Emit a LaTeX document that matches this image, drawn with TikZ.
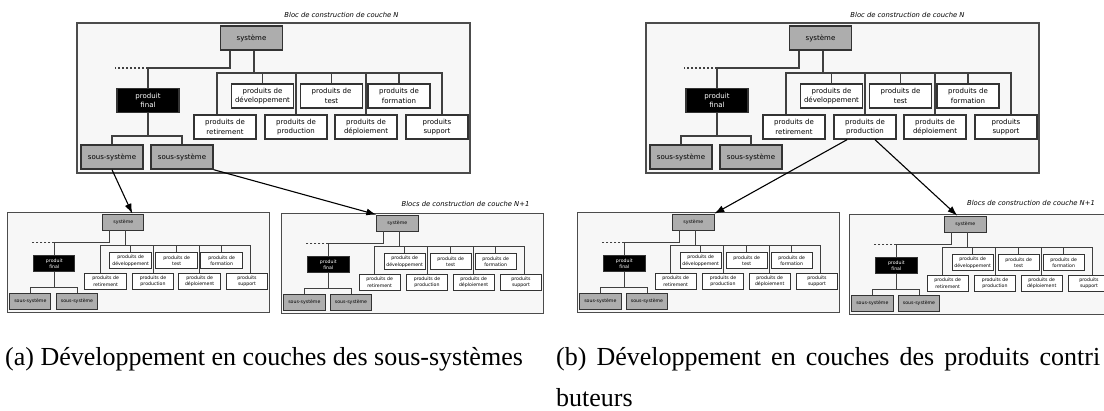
\documentclass[tikz,border=0pt]{standalone}
\usepackage{fontspec}
\setmainfont{Liberation Serif}
\setsansfont{DejaVu Sans}
\usetikzlibrary{arrows.meta}

\tikzset{
  bloc/.style={draw=black!70, fill=black!3, line width=1.2pt},
  boite/.style={draw=black!80, line width=1.4pt, fill=white, minimum width=62pt, minimum height=24pt,
    inner sep=0pt, align=center, font=\sffamily\fontsize{7}{9.3}\selectfont},
  gris/.style={boite, fill=black!32},
  noir/.style={boite, fill=black, text=white},
  lien/.style={draw=black!75, line width=1.2pt},
  pointille/.style={lien, dash pattern=on 2pt off 2pt},
  fleche/.style={-{Latex[length=10pt,width=7pt]}, line width=1.1pt},
  titre/.style={font=\sffamily\itshape\fontsize{6.8}{8}\selectfont, inner sep=0pt},
  legende/.style={font=\fontsize{26}{42}\selectfont, anchor=base west, inner sep=0pt},
  petit/.style={bloc/.append style={line width=0.9pt}, boite/.append style={line width=1pt},
    lien/.append style={line width=0.9pt}}
}

% un bloc de construction de couche
\newcommand{\couche}[1]{%
  \draw[bloc] (0,0) rectangle (393,150);
  \node[gris] (#1-sys) at (174.5,15) {système};
  \node[noir] (#1-pf) at (71,77.5) {produit\\final};
  \node[gris] (#1-ss1) at (35,134) {sous-système};
  \node[gris] (#1-ss2) at (105,134) {sous-système};
  \node[boite] (#1-ret) at (148,104) {produits de\\retirement};
  \node[boite] (#1-dev) at (185.5,73) {produits de\\développement};
  \node[boite] (#1-prod) at (219,104) {produits de\\production};
  \node[boite] (#1-test) at (254.5,73) {produits de\\test};
  \node[boite] (#1-dep) at (289,104) {produits de\\déploiement};
  \node[boite] (#1-form) at (322,73) {produits de\\formation};
  \node[boite] (#1-sup) at (360,104) {produits\\support};
  \coordinate (#1-g) at (153,45);
  \coordinate (#1-bus) at (177,50);
  % liens
  \draw[lien] (#1-sys.south -| #1-g) -- (#1-g) -| (#1-pf.north);
  \draw[pointille] (#1-g -| #1-pf.north) -- ++(-33,0);
  \draw[lien] (#1-pf.south) -- (#1-pf.south |- 0,113);
  \draw[lien] (#1-ss1.north) |- (#1-pf.south |- 0,113) -| (#1-ss2.north);
  \draw[lien] (#1-sys.south -| #1-bus) -- (#1-bus);
  \draw[lien] (#1-ret.north -| 140,0) |- (#1-bus);
  \draw[lien] (#1-sup.north -| 365,0) |- (#1-bus);
  \foreach \b in {dev,prod,test,dep,form}
    \draw[lien] (#1-\b.north) -- (#1-\b.north |- #1-bus);
}

\begin{document}
\begin{tikzpicture}[x=1pt, y=-1pt]
  \useasboundingbox (0,0) rectangle (1104,410);
  \clip (0,0) rectangle (1104,410);

  % (a)
  \begin{scope}[shift={(77,23)}]
    \couche{na}
  \end{scope}
  \begin{scope}[shift={(7,212)}, scale=2/3, transform shape, petit]
    \couche{a1}
  \end{scope}
  \begin{scope}[shift={(281,213)}, scale=2/3, transform shape, petit]
    \couche{a2}
  \end{scope}
  \node[titre] (tna) at (341.5,15) {Bloc de construction de couche N};
  \node[titre] (ta2) at (465.5,204) {Blocs de construction de couche N+1};
  \draw[fleche] (na-ss1.south) -- ([xshift=-12pt]a1-sys.north east);
  \draw[fleche] (na-ss2.south east) -- (a2-sys.north west);

  % (b)
  \begin{scope}[shift={(646,23)}]
    \couche{nb}
  \end{scope}
  \begin{scope}[shift={(577,212)}, scale=2/3, transform shape, petit]
    \couche{b1}
  \end{scope}
  \begin{scope}[shift={(849,214)}, scale=2/3, transform shape, petit]
    \couche{b2}
  \end{scope}
  \node[titre] (tnb) at (907.5,15) {Bloc de construction de couche N};
  \node[titre] (tb2) at (1031,203) {Blocs de construction de couche N+1};
  \draw[fleche] ([xshift=-18pt]nb-prod.south) -- (b1-sys.north east);
  \draw[fleche] ([xshift=10pt]nb-prod.south) -- ([xshift=-8pt]b2-sys.north);

  % legendes
  \node[legende] (la) at (5,365) {(a) Développement en couches des sous-systèmes};
  \node[legende] (lb) at (556,365) {\makebox[544pt][s]{(b) Développement en couches des produits contri}};
  \node[legende] (lb2) at (556,406) {buteurs};
\end{tikzpicture}
\end{document}
